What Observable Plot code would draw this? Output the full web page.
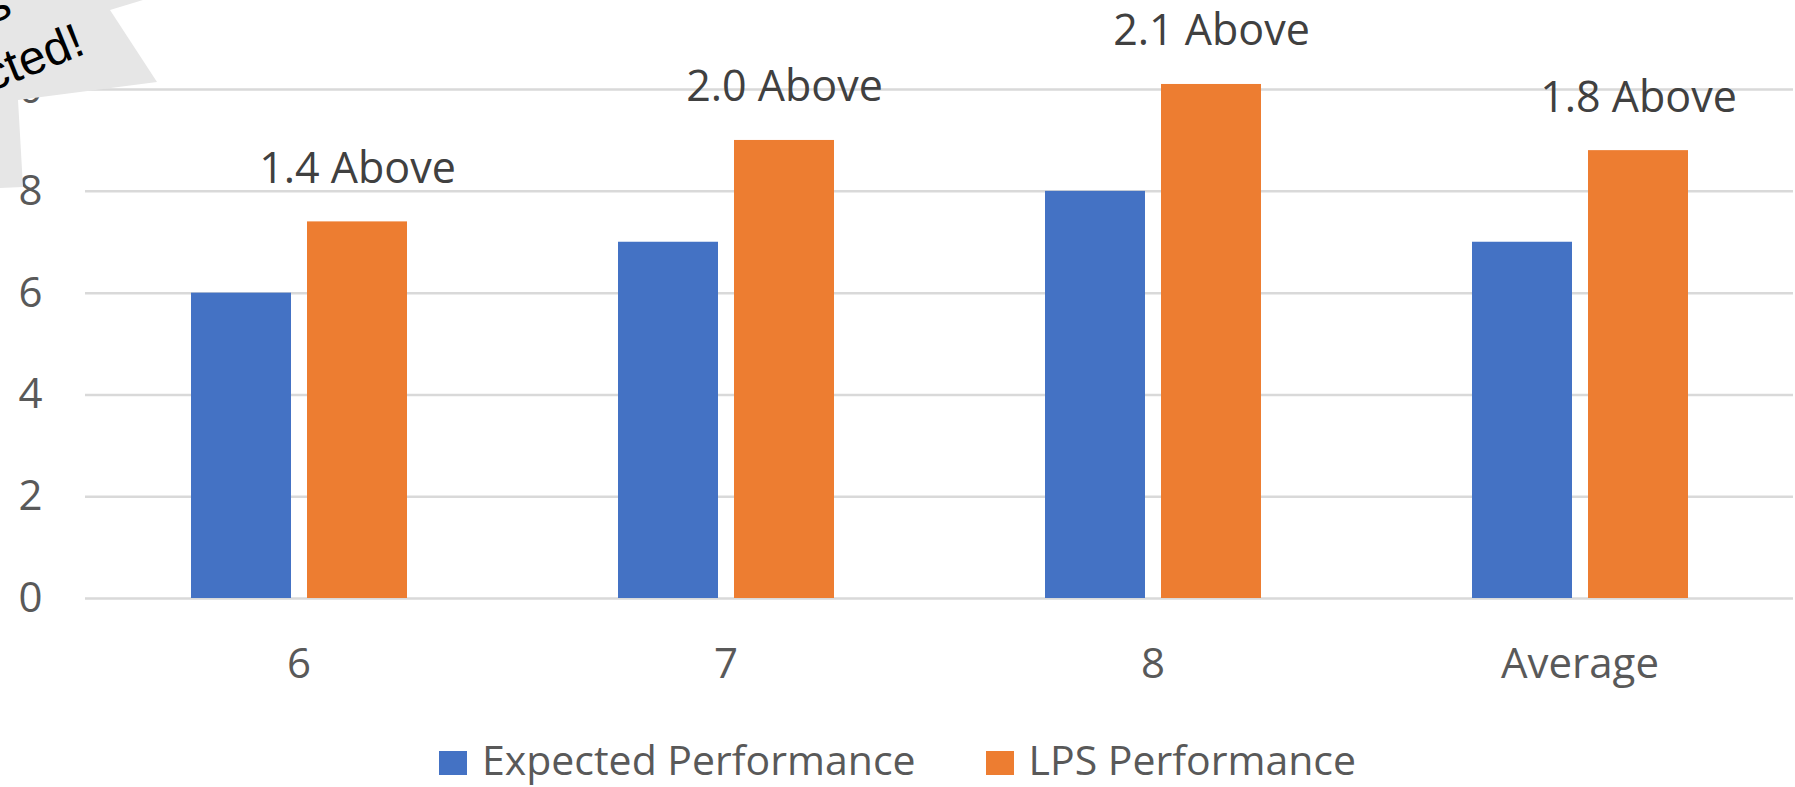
<!DOCTYPE html>
<html>
<head>
<meta charset="utf-8">
<script src="https://cdn.jsdelivr.net/npm/d3@7"></script>
<script src="https://cdn.jsdelivr.net/npm/@observablehq/plot@0.6"></script>
<style>
  html, body { margin: 0; padding: 0; background: #ffffff; }
  #wrap { position: relative; width: 1795px; height: 787px; overflow: hidden; background: #ffffff; }
  #chart { position: absolute; left: 0; top: 0; }
  #legend {
    position: absolute; left: 0; top: 739px; width: 1795px;
    text-align: center; font-family: "Open Sans", sans-serif; font-size: 41px;
    line-height: 1; color: #595959; white-space: nowrap;
  }
  #legend .sw { display: inline-block; width: 28px; height: 24px; vertical-align: baseline; margin-right: 15px; }
  #legend .gap { display: inline-block; width: 70px; }
  #callout { position: absolute; left: 0; top: 0; }
</style>
</head>
<body>
<div id="wrap">
  <div id="chart"></div>
  <div id="legend"></div>
  <svg id="callout" width="200" height="200" viewBox="0 0 200 200">
    <polygon points="0,0 143,0 110,10 157,82 18,100 23,187 0,188" fill="#e6e6e6"></polygon>
    <text x="14" y="15" transform="rotate(-22 14 15)" text-anchor="end" font-family="'Liberation Sans', Arial, sans-serif" font-size="48" fill="#000">s</text>
    <text x="87" y="53" transform="rotate(-22 87 53)" text-anchor="end" font-family="'Liberation Sans', Arial, sans-serif" font-size="48" fill="#000">cted!</text>
  </svg>
</div>
<script>
// ---- data ----
const categories = ["6", "7", "8", "Average"];
const seriesNames = ["Expected Performance", "LPS Performance"];
const expectedValues = [6.0, 7.0, 8.0, 7.0];
const lpsValues = [7.4, 9.0, 10.1, 8.8];
const diffLabels = ["1.4 Above", "2.0 Above", "2.1 Above", "1.8 Above"];
const yTicks = [0, 2, 4, 6, 8, 10];
const seriesColors = ["#4472C4", "#ED7D31"];

// ---- tables built from the arrays ----
const rows = categories.flatMap((c, i) => [
  {cat: c, series: seriesNames[0], value: expectedValues[i]},
  {cat: c, series: seriesNames[1], value: lpsValues[i]}
]);
const labelRows = categories.map((c, i) => ({cat: c, series: seriesNames[1], value: lpsValues[i], text: diffLabels[i]}));

const chart = Plot.plot({
  width: 1795,
  height: 720,
  marginTop: 0,
  marginBottom: 122,
  marginLeft: 85,
  marginRight: 2,
  style: {fontFamily: "'Open Sans', sans-serif", background: "transparent", color: "#595959"},
  fx: {domain: categories, padding: 0, label: null},
  x: {domain: seriesNames, paddingInner: 0.138, paddingOuter: 0.9095, axis: null},
  y: {domain: [0, 11.75], label: null},
  color: {domain: seriesNames, range: seriesColors},
  marks: [
    Plot.gridY(yTicks, {stroke: "#d9d9d9", strokeOpacity: 1, strokeWidth: 2.5}),
    Plot.barY(rows, {fx: "cat", x: "series", y: "value", fill: "series"}),
    Plot.text(labelRows, {fx: "cat", x: "series", y: "value", text: "text", lineAnchor: "bottom", dy: -39, fontSize: 43, fill: "#404040"}),
    Plot.axisY(yTicks, {tickSize: 0, tickPadding: 43, fontSize: 42, color: "#595959", label: null, tickFormat: d => String(d)}),
    Plot.axisFx({anchor: "bottom", tickSize: 0, tickPadding: 50, fontSize: 42, color: "#595959", label: null})
  ]
});
document.getElementById("chart").appendChild(chart);

// ---- legend below the SVG ----
const legend = document.getElementById("legend");
seriesNames.forEach((name, i) => {
  if (i > 0) {
    const g = document.createElement("span");
    g.className = "gap";
    legend.appendChild(g);
  }
  const sw = document.createElement("span");
  sw.className = "sw";
  sw.style.background = seriesColors[i];
  legend.appendChild(sw);
  const t = document.createElement("span");
  t.textContent = name;
  legend.appendChild(t);
});
</script>
</body>
</html>
